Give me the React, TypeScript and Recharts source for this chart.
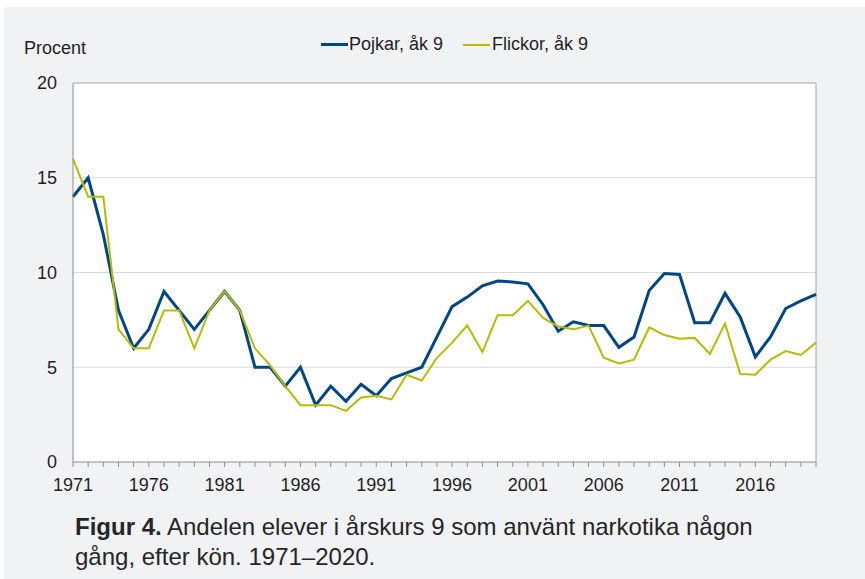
import { CartesianGrid, Line, LineChart, ReferenceLine, XAxis, YAxis } from "recharts";

const years = [
  1971, 1972, 1973, 1974, 1975, 1976, 1977, 1978, 1979, 1980,
  1981, 1982, 1983, 1984, 1985, 1986, 1987, 1988, 1989, 1990,
  1991, 1992, 1993, 1994, 1995, 1996, 1997, 1998, 1999, 2000,
  2001, 2002, 2003, 2004, 2005, 2006, 2007, 2008, 2009, 2010,
  2011, 2012, 2013, 2014, 2015, 2016, 2017, 2018, 2019, 2020,
];

const pojkar = [
  14, 15, 12, 8, 6, 7, 9, 8, 7, 8,
  9, 8, 5, 5, 4, 5, 3, 4, 3.2, 4.1,
  3.5, 4.4, 4.7, 5, 6.6, 8.2, 8.7, 9.3, 9.55, 9.5,
  9.4, 8.3, 6.9, 7.4, 7.2, 7.2, 6.05, 6.6, 9.05, 9.95,
  9.9, 7.35, 7.35, 8.9, 7.65, 5.55, 6.6, 8.1, 8.5, 8.85,
];

const flickor = [
  16, 14, 14, 7, 6, 6, 8, 8, 6, 8,
  9, 8, 6, 5.1, 4, 3, 3, 3, 2.7, 3.4,
  3.5, 3.3, 4.6, 4.3, 5.5, 6.3, 7.2, 5.8, 7.75, 7.75,
  8.5, 7.6, 7.15, 7, 7.2, 5.5, 5.2, 5.4, 7.1, 6.7,
  6.5, 6.55, 5.7, 7.3, 4.65, 4.6, 5.4, 5.85, 5.65, 6.3,
];

const labelYears = [1971, 1976, 1981, 1986, 1991, 1996, 2001, 2006, 2011, 2016];
const yTicks = [0, 5, 10, 15, 20];

const data = years.map((year, i) => ({ year, pojkar: pojkar[i], flickor: flickor[i] }));

const FONT = '"Liberation Sans", Arial, Helvetica, sans-serif';
const BLUE = "#00478a";
const GREEN = "#b4bd00";
const TEXT = "#1f1f1f";

function YearTick(props: any) {
  const { x, y, payload } = props;
  if (!labelYears.includes(payload.value)) return null;
  return (
    <text x={x} y={y} dy="0.71em" textAnchor="middle" fill={TEXT} fontSize={18} fontFamily={FONT}>
      {payload.value}
    </text>
  );
}

export default function App() {
  return (
    <div
      style={{
        position: "absolute",
        top: 0,
        left: 0,
        width: 865,
        height: 579,
        background: "#fff",
        fontFamily: FONT,
        color: TEXT,
        overflow: "hidden",
      }}
    >
      <div style={{ position: "absolute", left: 4, top: 7, right: 0, bottom: 0, background: "#f1f2f4" }} />
      <div style={{ position: "absolute", left: 24, top: 38, fontSize: 18 }}>Procent</div>
      <div
        style={{
          position: "absolute",
          left: 321,
          top: 34,
          fontSize: 18,
          display: "flex",
          alignItems: "center",
          whiteSpace: "nowrap",
        }}
      >
        <span style={{ display: "inline-block", width: 27, height: 3, background: BLUE, marginRight: 1 }} />
        <span style={{ marginRight: 20 }}>Pojkar, åk 9</span>
        <span style={{ display: "inline-block", width: 27, height: 2, background: GREEN, marginRight: 2 }} />
        <span>Flickor, åk 9</span>
      </div>
      <div style={{ position: "absolute", left: 0, top: 0 }}>
        <LineChart width={865} height={579} data={data} margin={{ top: 83, right: 49, left: 0, bottom: 87 }}>
          <CartesianGrid vertical={false} stroke="#d9d9d9" fill="#ffffff" horizontalValues={[5, 10, 15]} />
          <ReferenceLine y={20} stroke="#a6a6a6" strokeWidth={1} />
          <ReferenceLine x={2020} stroke="#a6a6a6" strokeWidth={1} />
          <XAxis
            dataKey="year"
            type="number"
            domain={[1971, 2020]}
            ticks={years}
            interval={0}
            height={30}
            tickSize={5}
            tickMargin={11}
            stroke="#8c8c8c"
            tick={<YearTick />}
          />
          <YAxis
            type="number"
            domain={[0, 20]}
            ticks={yTicks}
            width={73}
            tickLine={false}
            tickSize={8}
            tickMargin={8}
            stroke="#8c8c8c"
            tick={{ fill: TEXT, fontSize: 18, fontFamily: FONT }}
          />
          <Line
            dataKey="pojkar"
            stroke={BLUE}
            strokeWidth={3}
            dot={false}
            isAnimationActive={false}
          />
          <Line
            dataKey="flickor"
            stroke={GREEN}
            strokeWidth={2}
            dot={false}
            isAnimationActive={false}
          />
        </LineChart>
      </div>
      <div
        style={{
          position: "absolute",
          left: 75,
          top: 512,
          fontSize: 24,
          lineHeight: "30px",
          width: 780,
          color: "#262626",
          whiteSpace: "nowrap",
        }}
      >
        <b>Figur 4.</b> Andelen elever i årskurs 9 som använt narkotika någon
        <br />
        gång, efter kön. 1971–2020.
      </div>
    </div>
  );
}
